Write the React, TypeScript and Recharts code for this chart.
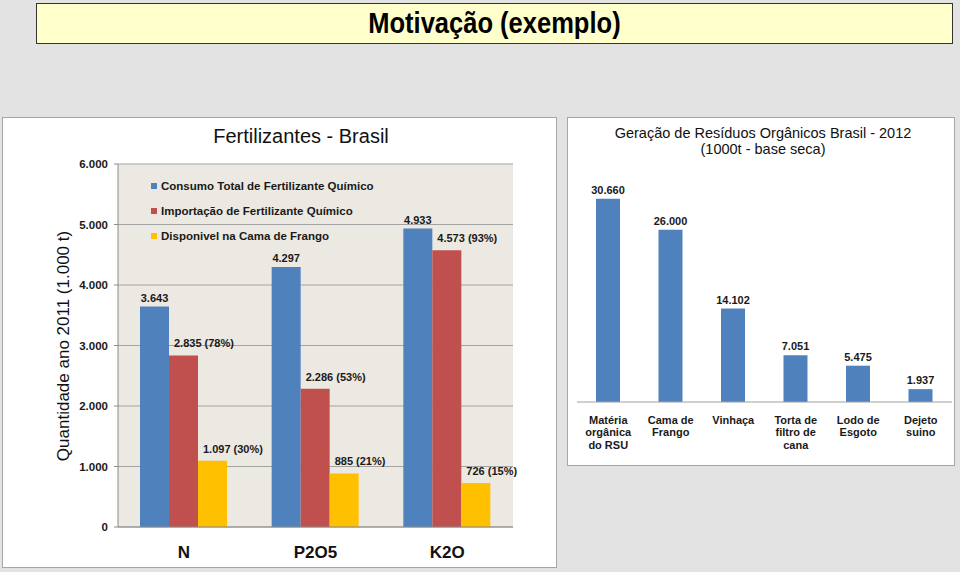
import { BarChart, Bar, XAxis, YAxis, CartesianGrid, Legend, LabelList } from "recharts";

const FONT = "'Liberation Sans', Arial, Helvetica, sans-serif";

// Fertilizantes - Brasil (1.000 t, ano 2011)
const nutrientes = ["N", "P2O5", "K2O"];
const consumoTotal = [3643, 4297, 4933];
const importacao = [2835, 2286, 4573];
const camaFrango = [1097, 885, 726];
const fertTicks = [0, 1000, 2000, 3000, 4000, 5000, 6000];

// Geração de resíduos orgânicos Brasil 2012 (1000 t - base seca)
const residuos = [
  "Matéria\norgânica\ndo RSU",
  "Cama de\nFrango",
  "Vinhaça",
  "Torta de\nfiltro de\ncana",
  "Lodo de\nEsgoto",
  "Dejeto\nsuino",
];
const geracao = [30660, 26000, 14102, 7051, 5475, 1937];

const AZUL = "#4f81bd";
const VERMELHO = "#c0504d";
const AMARELO = "#ffc000";

const fmt = (v: number) => String(v).replace(/\B(?=(\d{3})+(?!\d))/g, ".");
const pct = (v: number, total: number) => `${fmt(v)} (${Math.round((v / total) * 100)}%)`;

const fertData = nutrientes.map((nome, i) => ({
  nome,
  consumo: consumoTotal[i],
  importacao: importacao[i],
  cama: camaFrango[i],
  consumoTxt: fmt(consumoTotal[i]),
  importacaoTxt: pct(importacao[i], consumoTotal[i]),
  camaTxt: pct(camaFrango[i], consumoTotal[i]),
}));

const residuoData = residuos.map((nome, i) => ({ nome, valor: geracao[i], valorTxt: fmt(geracao[i]) }));

const legendItems = [
  { label: "Consumo Total de Fertilizante Químico", color: AZUL },
  { label: "Importação de Fertilizante Químico", color: VERMELHO },
  { label: "Disponivel na Cama de Frango", color: AMARELO },
];

const labelStyle = { fontSize: 11, fontWeight: "bold" as const, fill: "#1a1a1a", fontFamily: FONT };

const TopLabel = (props: any) => {
  const { x, y, width, value } = props;
  return (
    <text x={x + width / 2} y={y - 5} textAnchor="middle" {...labelStyle}>
      {value}
    </text>
  );
};

const SideLabel = (props: any) => {
  const { x, y, value } = props;
  return (
    <text x={x + 5} y={y - 8} textAnchor="start" {...labelStyle}>
      {value}
    </text>
  );
};

const NutrienteTick = (props: any) => {
  const { x, y, payload } = props;
  return (
    <text x={x} y={y + 23} textAnchor="middle" fontSize={17} fontWeight="bold" fill="#111" fontFamily={FONT}>
      {payload.value}
    </text>
  );
};

const ResiduoTick = (props: any) => {
  const { x, y, payload } = props;
  const lines = String(payload.value).split("\n");
  return (
    <text x={x} y={y + 14} textAnchor="middle" fontSize={11} fontWeight="bold" fill="#1a1a1a" fontFamily={FONT}>
      {lines.map((l, i) => (
        <tspan key={i} x={x} dy={i === 0 ? 0 : 12.3}>
          {l}
        </tspan>
      ))}
    </text>
  );
};

const FertLegend = () => (
  <div style={{ fontFamily: FONT, fontSize: 11.5, fontWeight: "bold", color: "#1a1a1a" }}>
    {legendItems.map((it) => (
      <div key={it.label} style={{ display: "flex", alignItems: "center", height: 25, whiteSpace: "nowrap" }}>
        <span style={{ width: 6, height: 6, background: it.color, marginRight: 4 }} />
        {it.label}
      </div>
    ))}
  </div>
);

export default function App() {
  return (
    <div
      style={{
        position: "fixed",
        left: 0,
        top: 0,
        width: 960,
        height: 572,
        background: "#e3e3e3",
        fontFamily: FONT,
        overflow: "hidden",
      }}
    >
      {/* título do slide */}
      <div
        style={{
          position: "absolute",
          left: 36,
          top: 3,
          width: 915,
          height: 39,
          background: "#ffffcc",
          border: "1px solid #333",
          display: "flex",
          alignItems: "center",
          justifyContent: "center",
        }}
      >
        <span style={{ fontSize: 29, fontWeight: "bold", color: "#000", transform: "scaleX(0.88)", display: "inline-block" }}>
          Motivação (exemplo)
        </span>
      </div>

      {/* Fertilizantes - Brasil */}
      <div
        style={{
          position: "absolute",
          left: 2,
          top: 117,
          width: 553,
          height: 449,
          background: "#fff",
          border: "1px solid #a6a6a6",
        }}
      >
        <div
          style={{
            position: "absolute",
            left: 0,
            width: 596,
            top: 7,
            textAlign: "center",
            fontSize: 20,
            color: "#111",
          }}
        >
          Fertilizantes - Brasil
        </div>
        <div
          style={{
            position: "absolute",
            left: 61,
            top: 228,
            transform: "translate(-50%, -50%) rotate(-90deg)",
            whiteSpace: "nowrap",
            fontSize: 17,
            color: "#111",
          }}
        >
          Quantidade ano 2011 (1.000 t)
        </div>
        <BarChart
          width={553}
          height={449}
          data={fertData}
          margin={{ top: 46, right: 43, bottom: 0, left: 0 }}
          barGap={0}
          barSize={29}
        >
          <CartesianGrid vertical={false} fill="#ebe9e1" stroke="#a3a3a3" />
          <XAxis
            dataKey="nome"
            height={40}
            tick={<NutrienteTick />}
            tickLine={false}
            axisLine={{ stroke: "#8c8c8c" }}
            interval={0}
          />
          <YAxis
            width={115}
            domain={[0, 6000]}
            ticks={fertTicks}
            tickFormatter={(v: number) => fmt(v)}
            tick={{ fontSize: 11.5, fontWeight: "bold", fill: "#1a1a1a", fontFamily: FONT }}
            tickSize={4}
            tickMargin={6}
            tickLine={{ stroke: "#8c8c8c" }}
            axisLine={{ stroke: "#8c8c8c" }}
          />
          <YAxis yAxisId="borda" orientation="right" width={0} tick={false} axisLine={{ stroke: "#aebccb" }} />
          <Legend
            layout="vertical"
            align="center"
            verticalAlign="middle"
            content={<FertLegend />}
            wrapperStyle={{ left: 148, top: 55, width: 320, height: 75 }}
          />
          <Bar dataKey="consumo" fill={AZUL} isAnimationActive={false}>
            <LabelList dataKey="consumoTxt" content={<TopLabel />} />
          </Bar>
          <Bar dataKey="importacao" fill={VERMELHO} isAnimationActive={false}>
            <LabelList dataKey="importacaoTxt" content={<SideLabel />} />
          </Bar>
          <Bar dataKey="cama" fill={AMARELO} isAnimationActive={false}>
            <LabelList dataKey="camaTxt" content={<SideLabel />} />
          </Bar>
        </BarChart>
      </div>

      {/* Geração de Resíduos Orgânicos */}
      <div
        style={{
          position: "absolute",
          left: 567,
          top: 117,
          width: 386,
          height: 347,
          background: "#fff",
          border: "1px solid #a6a6a6",
        }}
      >
        <div
          style={{
            position: "absolute",
            left: 0,
            width: 390,
            top: 7,
            textAlign: "center",
            fontSize: 14.5,
            lineHeight: "16px",
            color: "#111",
          }}
        >
          Geração de Resíduos Orgânicos Brasil - 2012
          <br />
          (1000t - base seca)
        </div>
        <BarChart
          width={386}
          height={347}
          data={residuoData}
          margin={{ top: 52, right: 2, bottom: 0, left: 9 }}
          barSize={24}
        >
          <XAxis
            dataKey="nome"
            height={63}
            tick={<ResiduoTick />}
            tickLine={false}
            axisLine={{ stroke: "#a0a0a0" }}
            interval={0}
          />
          <YAxis hide domain={[0, 35000]} />
          <Bar dataKey="valor" fill={AZUL} isAnimationActive={false}>
            <LabelList dataKey="valorTxt" content={<TopLabel />} />
          </Bar>
        </BarChart>
      </div>
    </div>
  );
}
